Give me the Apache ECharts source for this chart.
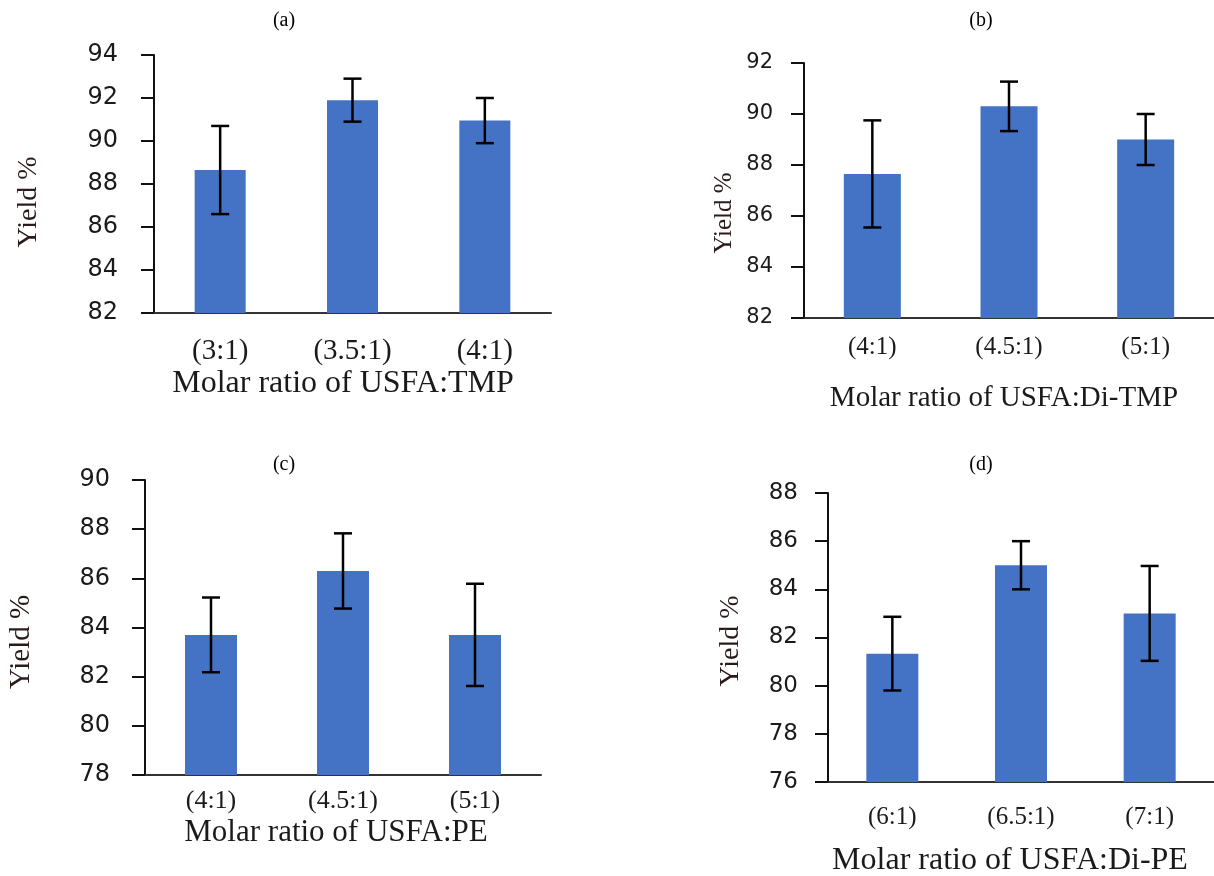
<!DOCTYPE html>
<html>
<head>
<meta charset="utf-8">
<title>Yield vs molar ratio</title>
<script src="https://cdn.jsdelivr.net/npm/echarts@6/dist/echarts.min.js"></script>
<style>
html, body { margin: 0; padding: 0; background: #fff; }
#main { width: 1214px; height: 876px; }
</style>
</head>
<body>
<div id="main"></div>
<script>
// (a) USFA:TMP
const catsA = ['(3:1)', '(3.5:1)', '(4:1)'];
const yieldA = [88.65, 91.9, 90.95];
const errA = [2.05, 1.0, 1.05];
// (b) USFA:Di-TMP
const catsB = ['(4:1)', '(4.5:1)', '(5:1)'];
const yieldB = [87.65, 90.3, 89.0];
const errB = [2.1, 0.97, 1.0];
// (c) USFA:PE
const catsC = ['(4:1)', '(4.5:1)', '(5:1)'];
const yieldC = [83.7, 86.3, 83.7];
const errC = [1.52, 1.53, 2.08];
// (d) USFA:Di-PE
const catsD = ['(6:1)', '(6.5:1)', '(7:1)'];
const yieldD = [81.33, 85.0, 83.0];
const errD = [1.53, 1.0, 1.97];
// y axis ranges (min, max), step 2
const rangeA = [82, 94];
const rangeB = [82, 92];
const rangeC = [78, 90];
const rangeD = [76, 88];

const tags = ['(a)', '(b)', '(c)', '(d)'];
const xNames = ['Molar ratio of USFA:TMP', 'Molar ratio of USFA:Di-TMP', 'Molar ratio of USFA:PE', 'Molar ratio of USFA:Di-PE'];

// layout of each panel
const panels = [
    { cats: catsA, vals: yieldA, errs: errA, range: rangeA,
      grid: { left: 154, top: 55, width: 397, height: 258 },
      barW: 51, tickFs: 24, tickMargin: 36, catFs: 29, catMargin: 24,
      tag: [284, 21], yName: [29, 202, 28], xName: [343, 384, 32] },
    { cats: catsB, vals: yieldB, errs: errB, range: rangeB,
      grid: { left: 804, top: 63, width: 410, height: 255 },
      barW: 57, tickFs: 21, tickMargin: 31, catFs: 25, catMargin: 17,
      tag: [981, 21], yName: [724, 213, 25], xName: [1004, 398, 29] },
    { cats: catsC, vals: yieldC, errs: errC, range: rangeC,
      grid: { left: 145, top: 480, width: 396, height: 295 },
      barW: 52, tickFs: 24, tickMargin: 35, catFs: 26, catMargin: 13,
      tag: [284, 465], yName: [21, 642, 29], xName: [336, 833, 31] },
    { cats: catsD, vals: yieldD, errs: errD, range: rangeD,
      grid: { left: 828, top: 493, width: 396, height: 289 },
      barW: 52, tickFs: 23, tickMargin: 30, catFs: 25, catMargin: 23,
      tag: [981, 465], yName: [731, 641, 28], xName: [1010, 861, 32] }
];

// 误差线
function renderErr(params, api) {
    const idx = api.value(0);
    const lo = api.coord([idx, api.value(1)]);
    const hi = api.coord([idx, api.value(2)]);
    const half = 9;
    const style = { stroke: '#000', lineWidth: 2.5 };
    return {
        type: 'group',
        children: [
            { type: 'line', shape: { x1: hi[0], y1: hi[1], x2: lo[0], y2: lo[1] }, style: style },
            { type: 'line', shape: { x1: hi[0] - half, y1: hi[1], x2: hi[0] + half, y2: hi[1] }, style: style },
            { type: 'line', shape: { x1: lo[0] - half, y1: lo[1], x2: lo[0] + half, y2: lo[1] }, style: style }
        ]
    };
}

const grid = [], xAxis = [], yAxis = [], series = [], graphic = [];
panels.forEach((p, i) => {
    grid.push(p.grid);
    xAxis.push({
        type: 'category', gridIndex: i, data: p.cats,
        axisLine: { lineStyle: { color: '#333', width: 2 } },
        axisTick: { show: false },
        axisLabel: { color: '#1a1a1a', fontFamily: 'Liberation Serif', fontSize: p.catFs, margin: p.catMargin }
    });
    yAxis.push({
        type: 'value', gridIndex: i, min: p.range[0], max: p.range[1], interval: 2,
        axisLine: { show: true, lineStyle: { color: '#111', width: 2 } },
        axisTick: { show: true, length: 13, lineStyle: { color: '#111', width: 2 } },
        splitLine: { show: false },
        axisLabel: { color: '#1a1a1a', fontFamily: 'DejaVu Sans', fontSize: p.tickFs, margin: p.tickMargin }
    });
    series.push({
        type: 'bar', xAxisIndex: i, yAxisIndex: i,
        data: p.vals, barWidth: p.barW,
        itemStyle: { color: '#4472C4' }
    });
    series.push({
        type: 'custom', xAxisIndex: i, yAxisIndex: i,
        renderItem: renderErr,
        encode: { x: 0, y: [1, 2] },
        data: p.vals.map((v, k) => [k, v - p.errs[k], v + p.errs[k]]),
        z: 5
    });
    graphic.push({
        type: 'text', x: p.tag[0], y: p.tag[1],
        style: { text: tags[i], font: '20px "Liberation Serif"', fill: '#000', textAlign: 'center', textVerticalAlign: 'middle' }
    });
    graphic.push({
        type: 'text', x: p.yName[0], y: p.yName[1], rotation: Math.PI / 2,
        style: { text: 'Yield %', font: p.yName[2] + 'px "Liberation Serif"', fill: '#2a1a1a', textAlign: 'center', textVerticalAlign: 'middle' }
    });
    graphic.push({
        type: 'text', x: p.xName[0], y: p.xName[1],
        style: { text: xNames[i], font: p.xName[2] + 'px "Liberation Serif"', fill: '#1a1a1a', textAlign: 'center', textVerticalAlign: 'middle' }
    });
});

const chart = echarts.init(document.getElementById('main'));
chart.setOption({
    animation: false,
    backgroundColor: '#fff',
    grid: grid,
    xAxis: xAxis,
    yAxis: yAxis,
    series: series,
    graphic: graphic
});
</script>
</body>
</html>
